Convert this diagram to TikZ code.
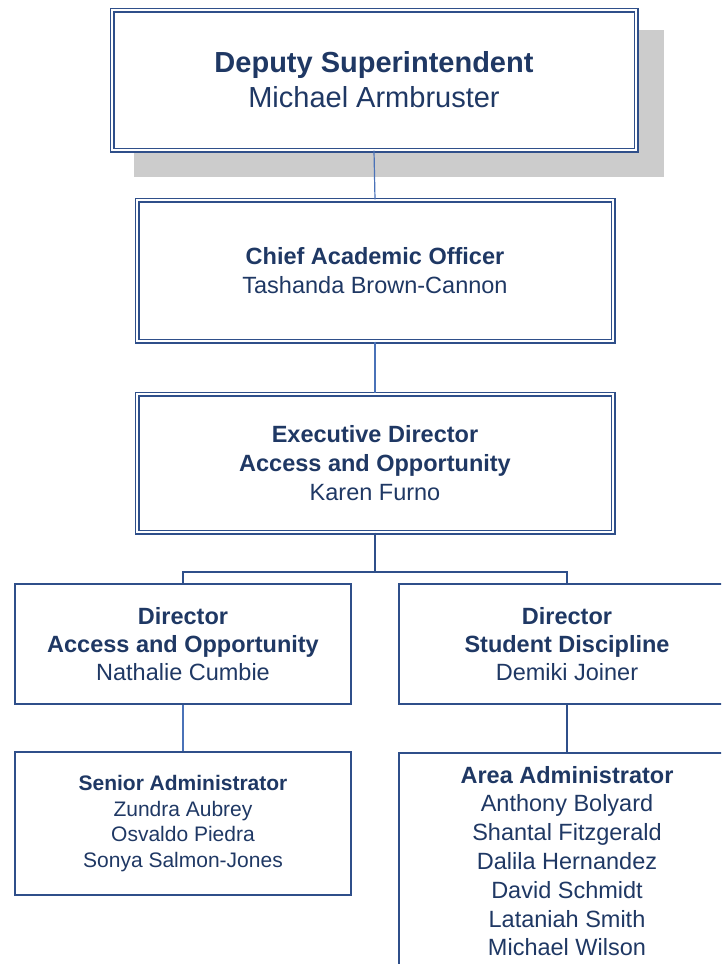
\documentclass[tikz,border=0pt]{standalone}
\usepackage{fontspec}
\setmainfont{Liberation Sans}
\definecolor{navy}{HTML}{1F3864}
\definecolor{boxline}{HTML}{2F4F8A}
\definecolor{linkblue}{HTML}{4A72B8}
\definecolor{shadowgrey}{HTML}{CCCCCC}

\begin{document}
\begin{tikzpicture}[x=1pt,y=-1pt,
  dblbox/.style={draw=boxline,double=white,double distance=2.4pt,line width=1.3pt,fill=white,align=center,text=navy,inner sep=0pt},
  onebox/.style={draw=boxline,line width=2pt,fill=white,align=center,text=navy,inner sep=0pt},
  link/.style={linkblue,line width=1.2pt},
  darklink/.style={boxline,line width=1.6pt}]
\useasboundingbox (0,0) rectangle (721,964);
\clip (0,0) rectangle (721,964);

\fill[shadowgrey] (134,30) rectangle (664,177);
\node[dblbox,minimum width=524pt,minimum height=140pt,font=\fontsize{29}{35}\selectfont] (deputy) at (374,80)
  {\textbf{Deputy Superintendent}\\Michael Armbruster};

\node[dblbox,minimum width=476pt,minimum height=141pt,font=\fontsize{23.5}{29}\selectfont] (chief) at (375,270.5)
  {\textbf{Chief Academic Officer}\\Tashanda Brown-Cannon};

\node[dblbox,minimum width=476pt,minimum height=138pt,font=\fontsize{23.5}{29}\selectfont] (exec) at (375,463)
  {\textbf{Executive Director}\\\textbf{Access and Opportunity}\\Karen Furno};

\node[onebox,minimum width=336pt,minimum height=120pt,font=\fontsize{23.5}{28}\selectfont] (dirao) at (183,644)
  {\textbf{Director}\\\textbf{Access and Opportunity}\\Nathalie Cumbie};
\node[onebox,minimum width=336pt,minimum height=120pt,font=\fontsize{23.5}{28}\selectfont] (dirsd) at (567,644)
  {\textbf{Director}\\\textbf{Student Discipline}\\Demiki Joiner};

\node[onebox,minimum width=336pt,minimum height=143pt,font=\fontsize{21}{25.7}\selectfont] (senior) at (183,823.5)
  {\textbf{Senior Administrator}\\Zundra Aubrey\\Osvaldo Piedra\\Sonya Salmon-Jones};
\node[onebox,anchor=north,minimum width=336pt,minimum height=216pt,font=\fontsize{23.5}{28.8}\selectfont] (area) at (567,752)
  {\textbf{Area Administrator}\\Anthony Bolyard\\Shantal Fitzgerald\\Dalila Hernandez\\David Schmidt\\Lataniah Smith\\Michael Wilson};

\draw[link] (deputy.south) -- (chief.north);
\draw[link] (chief.south) -- (exec.north);
\draw[darklink] (exec.south) -- (375,572) coordinate (fork);
\draw[darklink] (fork) -| (dirao.north);
\draw[darklink] (fork) -| (dirsd.north);
\draw[link] (dirao.south) -- (senior.north);
\draw[darklink] (dirsd.south) -- (area.north);
\end{tikzpicture}
\end{document}
